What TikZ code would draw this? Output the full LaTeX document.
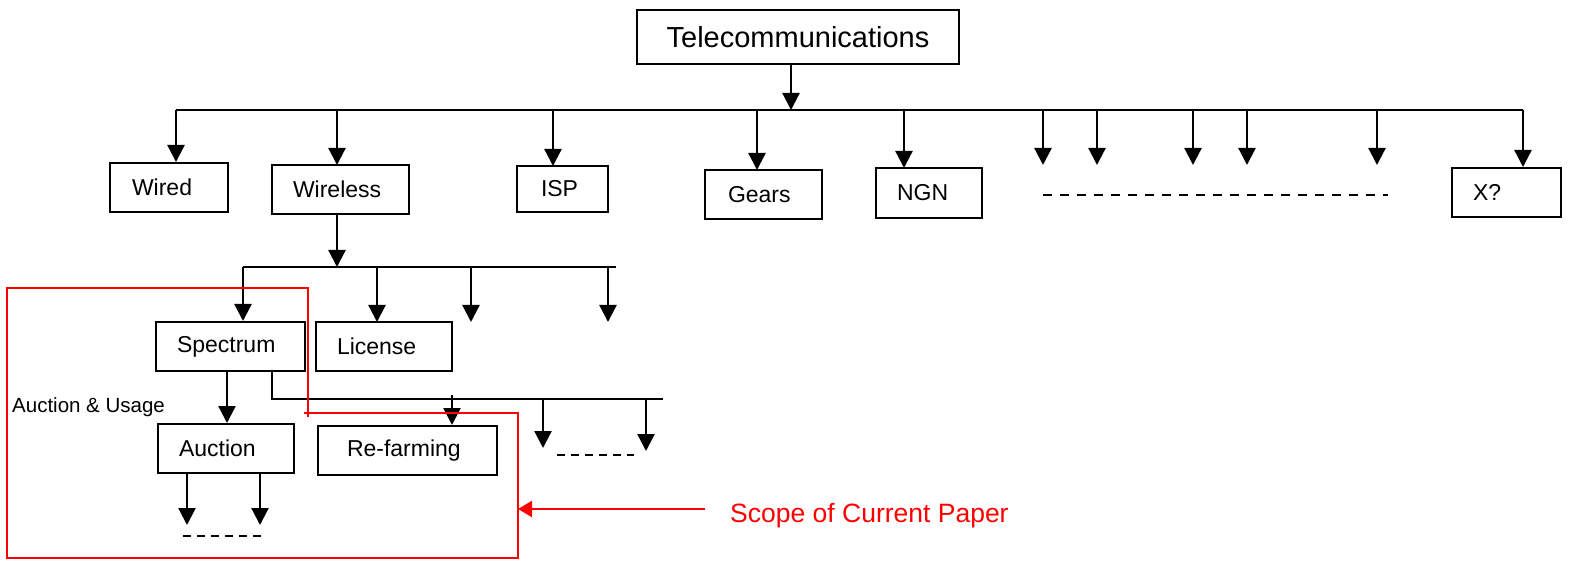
\documentclass[tikz,border=0pt]{standalone}
\usepackage{fontspec}
\setmainfont{Liberation Sans}
\usetikzlibrary{arrows.meta}
\tikzset{
  box/.style={draw, line width=2pt, inner ysep=0pt, align=left, font=\fontsize{23}{27}\selectfont},
  arr/.style={line width=2.3pt, -{Triangle[width=17pt,length=17pt]}},
  bus/.style={line width=2pt},
  dashline/.style={line width=1.8pt, dash pattern=on 9pt off 8pt},
  dashshort/.style={line width=1.8pt, dash pattern=on 8pt off 6pt},
  redline/.style={draw=red, line width=2.3pt},
  redarr/.style={draw=red, fill=red, line width=2.3pt, -{Triangle[width=16pt,length=14pt]}},
  lbl/.style={inner sep=0pt, anchor=base west},
}
\newcommand\bx[7]{%
  \pgfmathsetmacro\bxw{#4-#2}%
  \pgfmathsetmacro\bxh{#5-#3}%
  \pgfmathsetmacro\bxt{#4-#2-2*#6}%
  \node[box, minimum width=\bxw pt, minimum height=\bxh pt, inner xsep=#6pt, text width=\bxt pt]
    (#1) at ({(#2+#4)/2},{(#3+#5)/2}) {#7};}
\begin{document}
\begin{tikzpicture}[x=1pt,y=-1pt]
\useasboundingbox (0,0) rectangle (1569,561);

% boxes
\node[box, minimum width=322pt, minimum height=54pt, align=center, text width=290pt, inner xsep=16pt,
      font=\fontsize{29}{34}\selectfont] (tele) at (798,37) {Telecommunications};
\bx{wired}{110}{163}{228}{212}{22}{Wired}
\bx{wireless}{272}{165}{409}{214}{21}{Wireless}
\bx{isp}{517}{166}{608}{212}{24}{ISP}
\bx{gears}{705}{170}{822}{219}{23}{Gears}
\bx{ngn}{876}{168}{982}{218}{21}{NGN}
\bx{xq}{1452}{168}{1561}{217}{21}{X?}
\bx{spectrum}{156}{322}{305}{371}{21}{Spectrum}
\bx{license}{316}{322}{452}{371}{21}{License}
\bx{auction}{158}{424}{294}{473}{21}{Auction}
\bx{refarm}{318}{426}{497}{475}{29}{Re-farming}

% top bus
\coordinate (tb) at (791,110);
\coordinate (busL) at (176,110);
\coordinate (busR) at (1523,110);
\draw[bus] (busL) -- (busR);
\draw[arr] (tele.south -| tb) -- (tb);
\draw[arr] (busL) -- (busL |- wired.north);
\draw[arr] (337,110) -- (337,165);
\draw[arr] (553,110) -- (553,166);
\draw[arr] (757,110) -- (757,170);
\draw[arr] (904,110) -- (904,168);
\foreach \xx in {1043,1097,1193,1247,1377} {
  \draw[arr] (\xx,110) -- (\xx,165);
}
\draw[arr] (busR) -- (busR |- xq.north);
\coordinate (d1a) at (1043,195);
\coordinate (d1b) at (1388,195);
\draw[dashline] (d1a) -- (d1b);

% wireless bus
\coordinate (wb) at (337,267);
\coordinate (wbL) at (243,267);
\coordinate (wbR) at (616,267);
\draw[arr] (wireless.south -| wb) -- (wb);
\draw[bus] (wbL) -- (wbR);
\draw[arr] (wbL) -- (wbL |- spectrum.north);
\draw[arr] (377,267) -- (377,322);
\draw[arr] (471,267) -- (471,322);
\draw[arr] (608,267) -- (608,322);

% spectrum children
\coordinate (sa) at (227,371);
\draw[arr] (spectrum.south -| sa) -- (auction.north -| sa);
\coordinate (sb) at (272,399);
\coordinate (sbR) at (663,399);
\draw[bus] (spectrum.south -| sb) -- (sb) -- (sbR);
\draw[arr] (452,395) -- (refarm.north -| 452,0);
\draw[arr] (543,399) -- (543,448);
\draw[arr] (646,399) -- (646,451);
\coordinate (d2a) at (557,455);
\coordinate (d2b) at (634,455);
\draw[dashshort] (d2a) -- (d2b);

% auction children
\draw[arr] (auction.south -| 187,0) -- (187,525);
\draw[arr] (auction.south -| 260,0) -- (260,525);
\coordinate (d3a) at (183,536);
\coordinate (d3b) at (262,536);
\draw[dashshort] (d3a) -- (d3b);

% red scope outline
\coordinate (rr) at (518,413);
\draw[redline] (304,413) -- (rr) -- (518,558) -- (7,558) -- (7,288) -- (308,288) -- (308,417);
\node[lbl, font=\fontsize{20.5}{24}\selectfont] (au) at (12,412) {Auction \& Usage};
\node[lbl, text=red, font=\fontsize{26.5}{31}\selectfont] (scope) at (730,522) {Scope of Current Paper};
\coordinate (sc) at (705,509);
\draw[redarr] (sc) -- (sc -| rr);
\end{tikzpicture}
\end{document}
